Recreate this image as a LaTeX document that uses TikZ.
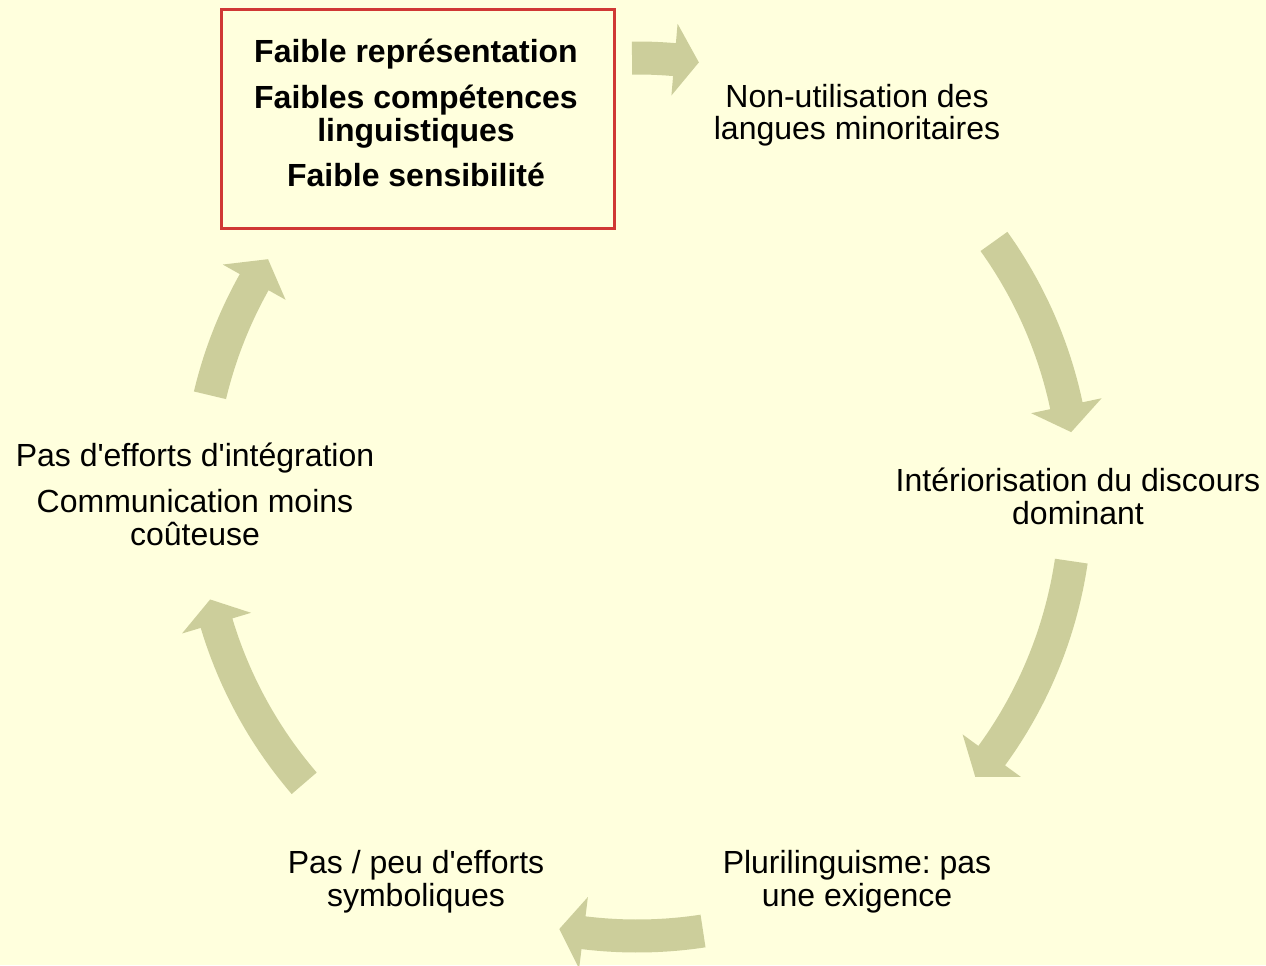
\documentclass[tikz,border=0pt]{standalone}
\usepackage{fontspec}
\setmainfont{Liberation Sans}
\frenchspacing
\definecolor{bg}{RGB}{255,255,221}
\definecolor{arrowcol}{RGB}{204,206,155}
\definecolor{boxred}{RGB}{208,56,52}
\newcommand\cyclearrow[3]{% tail angle, head base angle, tip angle
  \fill[arrowcol] plot[domain=#1:#2, samples=40] (\x:455.5) -- (#2:475) -- (#3:439) -- (#2:403)
    -- plot[domain=#2:#1, samples=40] (\x:422.5) -- cycle;}
\newcommand\sq{\textquotesingle}
\begin{document}
\begin{tikzpicture}[x=0.02cm, y=0.02cm,
  lbl/.style={anchor=base, align=center, inner sep=0pt, font=\fontsize{18.21pt}{18.78pt}\selectfont},
  redbox/.style={draw=boxred, line width=0.06cm, fill=bg, minimum width=7.88cm, minimum height=4.4cm, inner sep=0pt}]
\fill[bg] (0,0) rectangle (1266,965);
\useasboundingbox (0,0) rectangle (1266,965);
\coordinate (c) at (637,468);
% arrows
\begin{scope}[shift={(c)}]
\cyclearrow{90.65}{85.1}{81.9}
\cyclearrow{35.6}{12.0}{8.5}
\cyclearrow{-8.4}{-36.1}{-39.6}
\cyclearrow{-81.35}{-97.0}{-100.2}
\cyclearrow{-139.3}{-163.3}{-166.5}
\cyclearrow{166.6}{150.7}{147.2}
\end{scope}
% nodes (anchor = baseline of last line)
\node[redbox] (n1) at (418,846) {};
\node[lbl, font=\fontsize{18.21pt}{18.78pt}\selectfont\bfseries] (t1) at (416,778)
  {Faible représentation\\[7.4pt]Faibles compétences\\linguistiques\\[7.4pt]Faible sensibilité};
\node[lbl] (n2) at (857,825) {Non-utilisation des\\langues minoritaires};
\node[lbl] (n3) at (1078,441) {Intériorisation du discours\\dominant};
\node[lbl] (n4) at (857,59) {Plurilinguisme: pas\\une exigence};
\node[lbl] (n5) at (416,59) {Pas / peu d\sq efforts\\symboliques};
\node[lbl] (n6) at (195,420) {Pas d\sq efforts d\sq intégration\\[7.4pt]Communication moins\\coûteuse};
\end{tikzpicture}
\end{document}
